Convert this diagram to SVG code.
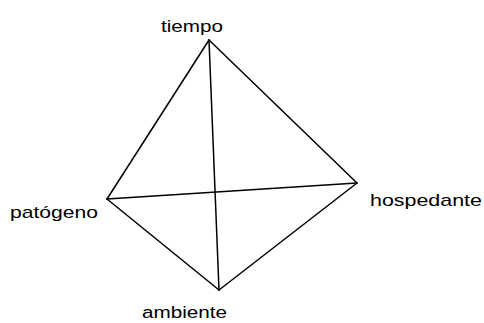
<svg xmlns="http://www.w3.org/2000/svg" width="484" height="323" viewBox="0 0 484 323">
<style>
.lbl{font-family:"Liberation Sans",Arial,sans-serif;font-size:17px;fill:#000}
.e{stroke:#000;stroke-width:1.5;fill:none;stroke-linecap:round}
</style>
<rect width="484" height="323" fill="#fff"/>
<g id="connectors">
<line class="e" x1="209" y1="40" x2="107" y2="199"/>
<line class="e" x1="209" y1="40" x2="357" y2="183"/>
<line class="e" x1="107" y1="199" x2="219" y2="290"/>
<line class="e" x1="357" y1="183" x2="219" y2="290"/>
<line class="e" x1="209" y1="40" x2="219" y2="290"/>
<line class="e" x1="107" y1="199" x2="357" y2="183"/>
</g>
<g id="tiempo"><text class="lbl" x="161" y="32" textLength="62" lengthAdjust="spacingAndGlyphs">tiempo</text></g>
<g id="patogeno"><text class="lbl" x="10" y="218" textLength="88" lengthAdjust="spacingAndGlyphs">patógeno</text></g>
<g id="hospedante"><text class="lbl" x="370" y="206" textLength="112" lengthAdjust="spacingAndGlyphs">hospedante</text></g>
<g id="ambiente"><text class="lbl" x="142" y="318" style="font-size:16px" textLength="85" lengthAdjust="spacingAndGlyphs">ambiente</text></g>
</svg>
